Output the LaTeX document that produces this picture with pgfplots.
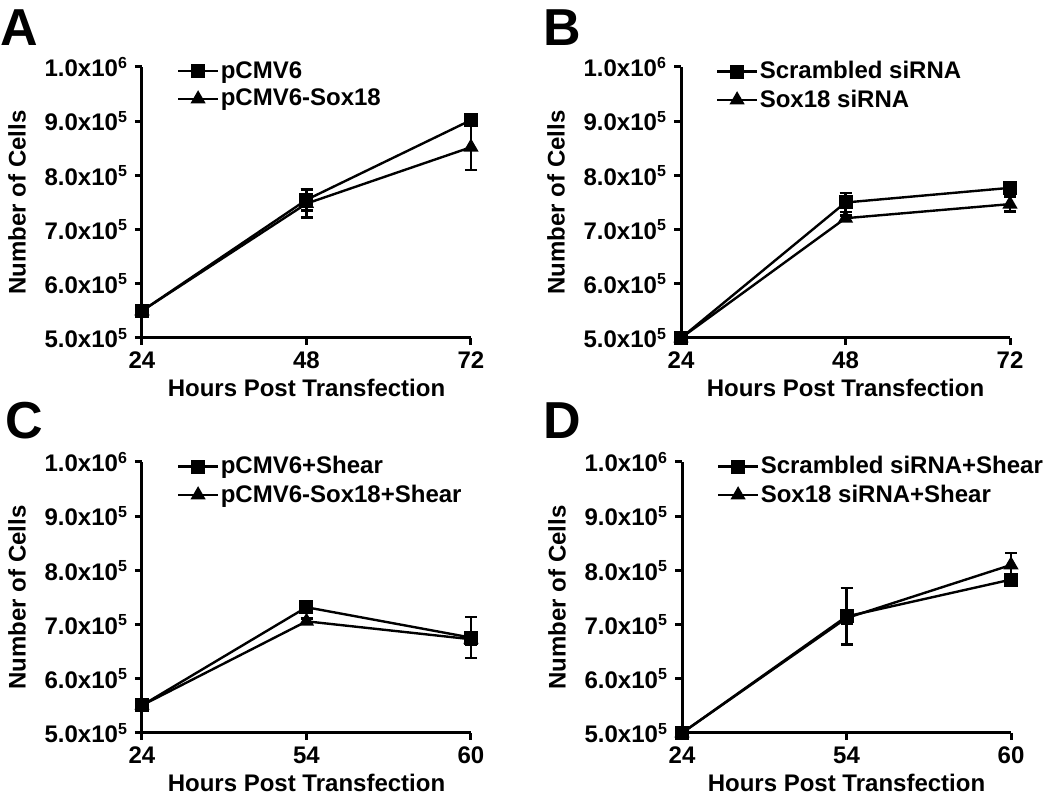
\documentclass[border=0pt]{standalone}
\usepackage{fontspec}
\setmainfont{Liberation Sans}
\usepackage{pgfplots}
\pgfplotsset{compat=1.18}
\newcommand{\fnt}{\bfseries\fontsize{12}{14}\selectfont}
\pgfplotsset{
 panel/.style={
   scale only axis, width=164.5pt, height=135.5pt, anchor=south west,
   axis lines*=left, axis line style={line width=1.5pt, black},
   every tick/.style={line width=1.5pt, black}, tick align=outside, major tick length=3.5pt,
   xmin=0, xmax=2, xtick={0,1,2},
   ymin=500000, ymax=1000000, ytick={500000,600000,700000,800000,900000,1000000},
   scaled y ticks=false,
   yticklabels={5.0x10\textsuperscript{5},6.0x10\textsuperscript{5},7.0x10\textsuperscript{5},8.0x10\textsuperscript{5},9.0x10\textsuperscript{5},1.0x10\textsuperscript{6}},
   ylabel={Number of Cells}, xlabel={Hours Post Transfection},
   clip=false,
   tick label style={font=\fnt},
   label style={font=\fnt},
   xlabel style={yshift=2pt},
   ylabel style={yshift=2.5pt},
   legend style={draw=none, fill=none, at={(0,1)}, anchor=north west, xshift=17.25pt, yshift=7pt,
     font=\fnt, inner xsep=0pt, nodes={inner xsep=0.75pt, inner ysep=2pt}},
   legend cell align=left,
   legend image code/.code={\draw[##1, mark repeat=2, mark phase=2] plot coordinates {(0pt,0pt)(10pt,0pt)(20pt,0pt)};},
 },
 sq/.style={black, line width=1.2pt, mark=square*, mark size=2.9pt, mark options={solid},
   error bars/.cd, y dir=both, y explicit, error bar style={line width=1.2pt, black},
   error mark options={rotate=90, line width=1.2pt, mark size=3pt, black}},
 tri/.style={black, line width=1.2pt, mark=triangle*, mark size=3.2pt, mark options={solid},
   error bars/.cd, y dir=both, y explicit, error bar style={line width=1.2pt, black},
   error mark options={rotate=90, line width=1.2pt, mark size=3pt, black}},
}
\begin{document}
\begin{tikzpicture}
\path[use as bounding box] (0,0) rectangle (525pt,400.5pt);
% Panel A
\begin{axis}[panel, at={(71pt,231.5pt)}, xticklabels={24,48,72}]
\addplot[sq] coordinates {(0,550000) +- (0,4000) (1,755000) +- (0,20000) (2,902000) +- (0,5000)};
\addlegendentry{pCMV6}
\addplot[tri] coordinates {(0,550000) +- (0,3000) (1,748000) +- (0,26000) (2,852000) +- (0,42000)};
\addlegendentry{pCMV6-Sox18}
\end{axis}
% Panel B
\begin{axis}[panel, at={(340.5pt,231.5pt)}, xticklabels={24,48,72}]
\addplot[sq] coordinates {(0,500000) +- (0,0) (1,750000) +- (0,18000) (2,777000) +- (0,6000)};
\addlegendentry{Scrambled siRNA}
\addplot[tri] coordinates {(0,500000) +- (0,0) (1,721000) +- (0,5000) (2,747000) +- (0,14000)};
\addlegendentry{Sox18 siRNA}
\end{axis}
% Panel C
\begin{axis}[panel, at={(71pt,34pt)}, xticklabels={24,54,60}]
\addplot[sq] coordinates {(0,551000) +- (0,3000) (1,732000) +- (0,8000) (2,676000) +- (0,38000)};
\addlegendentry{pCMV6+Shear}
\addplot[tri] coordinates {(0,551000) +- (0,3000) (1,706000) +- (0,5000) (2,673000) +- (0,10000)};
\addlegendentry{pCMV6-Sox18+Shear}
\end{axis}
% Panel D
\begin{axis}[panel, at={(341pt,34pt)}, xticklabels={24,54,60}]
\addplot[sq] coordinates {(0,500000) +- (0,0) (1,715000) +- (0,52000) (2,783000) +- (0,5000)};
\addlegendentry{Scrambled siRNA+Shear}
\addplot[tri] coordinates {(0,500000) +- (0,0) (1,712000) +- (0,10000) (2,810000) +- (0,22000)};
\addlegendentry{Sox18 siRNA+Shear}
\end{axis}
% panel letters
\node[anchor=base west, inner sep=0pt, font=\bfseries\fontsize{26}{30}\selectfont] at (0pt,377.5pt) {A};
\node[anchor=base west, inner sep=0pt, font=\bfseries\fontsize{26}{30}\selectfont] at (271.5pt,377.5pt) {B};
\node[anchor=base west, inner sep=0pt, font=\bfseries\fontsize{26}{30}\selectfont] at (2.5pt,181pt) {C};
\node[anchor=base west, inner sep=0pt, font=\bfseries\fontsize{26}{30}\selectfont] at (271.5pt,181pt) {D};
\end{tikzpicture}
\end{document}
